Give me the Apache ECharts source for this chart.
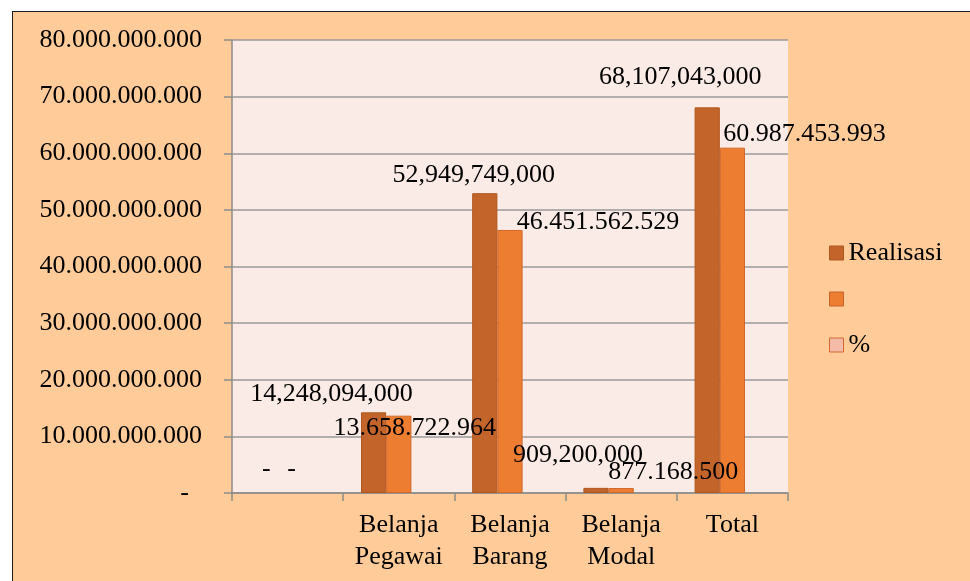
<!DOCTYPE html>
<html lang="id">
<head>
<meta charset="UTF-8">
<title>Realisasi Belanja</title>
<style>
  html, body { margin: 0; padding: 0; background: #fff; overflow: hidden; }
  #chart {
    position: absolute; left: 12px; top: 11px;
    width: 957px; height: 569px;
    border-left: 1px solid #1e1e1e; border-top: 1px solid #1e1e1e;
  }
</style>
</head>
<body>
<div id="chart"></div>
<script src="https://cdn.jsdelivr.net/npm/echarts@6/dist/echarts.min.js"></script>
<script>
// data
var categories = ['', 'Belanja\nPegawai', 'Belanja\nBarang', 'Belanja\nModal', 'Total'];
var realisasi = [0, 14248094000, 52949749000, 909200000, 68107043000];
var kedua = [0, 13658722964, 46451562529, 877168500, 60987453993];
var persen = [0, 95.86, 87.73, 96.48, 89.55];
var yTicks = { min: 0, max: 80000000000, step: 10000000000 };

// label shifts (labels were dragged by hand in the original)
var shiftRealisasi = [[4, -6], [-42, 0], [-11, 0], [-18, -15], [-27, -12]];
var shiftKedua = [[4, -6], [16, 31], [88, 10], [52, 2], [72, 5]];

var serif = 'Liberation Serif';

function group(v, sep) {
  var s = Math.round(v).toString();
  return s.replace(/\B(?=(\d{3})+(?!\d))/g, sep);
}

function withShift(values, shifts) {
  return values.map(function (v, i) {
    var item = { value: v, label: { offset: shifts[i] } };
    if (v === 0) item.itemStyle = { borderWidth: 0 }; // no sliver for empty bars
    return item;
  });
}

var chart = echarts.init(document.getElementById('chart'));

var option = {
  backgroundColor: '#FFCC99',
  textStyle: { fontFamily: serif, color: '#000' },
  grid: {
    left: 219, top: 28, right: 182, bottom: 88,
    show: true, backgroundColor: '#FBEBE7', borderWidth: 0
  },
  legend: {
    orient: 'vertical',
    left: 816, top: 228,
    padding: 0,
    itemWidth: 14, itemHeight: 14, itemGap: 20,
    icon: 'rect',
    textStyle: { fontFamily: serif, fontSize: 26, lineHeight: 26, color: '#000' },
    data: [
      { name: 'Realisasi', itemStyle: { color: '#C3652A', borderColor: '#B0561E', borderWidth: 1 } },
      { name: ' ', itemStyle: { color: '#ED7D31', borderColor: '#C8622A', borderWidth: 1 } },
      { name: '%', itemStyle: { color: '#F4BBA8', borderColor: '#D0682F', borderWidth: 1 } }
    ]
  },
  xAxis: {
    type: 'category',
    data: categories,
    axisLine: { lineStyle: { color: '#8C8C8C', width: 1.5 } },
    axisTick: { show: true, length: 8, lineStyle: { color: '#8C8C8C', width: 1.5 } },
    axisLabel: {
      fontFamily: serif, fontSize: 26, lineHeight: 32, color: '#000',
      margin: 16, interval: 0
    }
  },
  yAxis: {
    type: 'value',
    min: yTicks.min, max: yTicks.max, interval: yTicks.step,
    axisLine: { show: true, lineStyle: { color: '#8C8C8C', width: 1.5 } },
    axisTick: { show: true, length: 8, lineStyle: { color: '#8C8C8C', width: 1.5 } },
    splitLine: { lineStyle: { color: '#9A9A9A', width: 1.5 } },
    axisLabel: {
      fontFamily: serif, fontSize: 26, color: '#000', margin: 30,
      formatter: function (v) { return v === 0 ? '-  ' : group(v, '.'); }
    }
  },
  series: [
    {
      name: 'Realisasi',
      type: 'bar',
      barGap: '0%',
      barCategoryGap: '32%',
      data: withShift(realisasi, shiftRealisasi),
      itemStyle: { color: '#C3652A', borderColor: '#B0561E', borderWidth: 1 },
      label: {
        show: true, position: 'top', distance: 5,
        fontFamily: serif, fontSize: 26, color: '#000',
        formatter: function (p) { return p.value === 0 ? '-' : group(p.value, ','); }
      }
    },
    {
      name: ' ',
      type: 'bar',
      barGap: '0%',
      barCategoryGap: '32%',
      data: withShift(kedua, shiftKedua),
      itemStyle: { color: '#ED7D31', borderColor: '#D0682A', borderWidth: 1 },
      label: {
        show: true, position: 'top', distance: 5,
        fontFamily: serif, fontSize: 26, color: '#000',
        formatter: function (p) { return p.value === 0 ? '-' : group(p.value, '.'); }
      }
    },
    {
      name: '%',
      type: 'bar',
      barGap: '0%',
      barCategoryGap: '32%',
      data: persen,
      itemStyle: { color: '#F4BBA8', borderWidth: 0 }
    }
  ]
};

chart.setOption(option);
</script>
</body>
</html>
